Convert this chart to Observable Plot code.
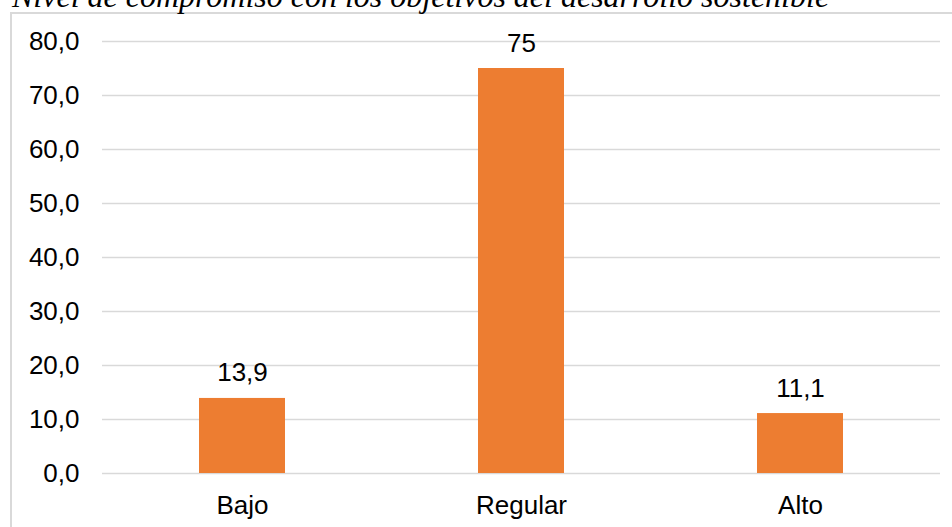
<!DOCTYPE html>
<html>
<head>
<meta charset="utf-8">
<script src="https://cdn.jsdelivr.net/npm/d3@7"></script>
<script src="https://cdn.jsdelivr.net/npm/@observablehq/plot@0.6"></script>
<style>
  html, body { margin: 0; padding: 0; background: #fff; }
  #wrap { position: relative; width: 952px; height: 527px; overflow: hidden; background: #fff; }
  #title { position: absolute; left: 12px; top: -20px; font-family: "Liberation Serif", "Times New Roman", serif; font-style: italic; font-size: 32px; line-height: 32px; color: #000; white-space: nowrap; }
  #box { position: absolute; left: 10px; top: 12px; width: 1000px; height: 600px; border-left: 2px solid #d9d9d9; border-top: 2px solid #d9d9d9; pointer-events: none; }
  #chart { position: absolute; left: 0; top: 0; }
</style>
</head>
<body>
<div id="wrap">
  <div id="chart"></div>
  <div id="box"></div>
  <div id="title">Nivel de compromiso con los objetivos del desarrollo sostenible</div>
</div>
<script>
const categories = ["Bajo", "Regular", "Alto"];
const values = [13.9, 75, 11.1];
const valueLabels = ["13,9", "75", "11,1"];
const yTicks = [0, 10, 20, 30, 40, 50, 60, 70, 80];

const data = categories.map((c, i) => ({ cat: c, val: values[i], label: valueLabels[i] }));

const chart = Plot.plot({
  width: 952,
  height: 527,
  marginLeft: 102,
  marginRight: 12,
  marginTop: 41,
  marginBottom: 54,
  style: { fontFamily: "'Liberation Sans', Arial, sans-serif", fontSize: "26px", color: "#000", background: "transparent" },
  x: { domain: categories, paddingInner: 0.69, paddingOuter: 0.345, label: null },
  y: { domain: [0, 80], label: null },
  marks: [
    Plot.gridY(yTicks, { stroke: "#d9d9d9", strokeOpacity: 1, strokeWidth: 1.5 }),
    Plot.barY(data, { x: "cat", y: "val", fill: "#ED7D31" }),
    Plot.text(data, { x: "cat", y: "val", text: "label", lineAnchor: "bottom", dy: -17, fill: "#000", fontSize: 26 }),
    Plot.axisY(yTicks, { tickSize: 0, tickPadding: 23, tickFormat: d => d.toFixed(1).replace(".", ","), label: null, fontSize: 26, fill: "#000" }),
    Plot.axisX({ tickSize: 0, tickPadding: 22, label: null, fontSize: 26, fill: "#000" })
  ]
});
document.getElementById("chart").appendChild(chart);
</script>
</body>
</html>
